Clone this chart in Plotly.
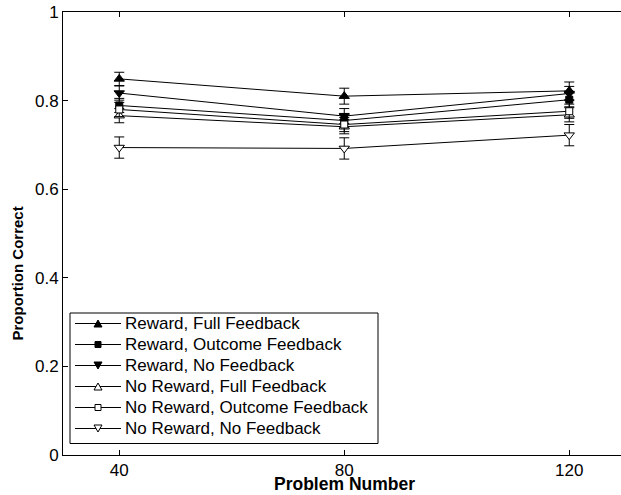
import plotly.graph_objects as go

# Problem numbers at which accuracy was measured
problems = [40, 80, 120]

# Proportion correct per condition
reward_full = [0.849, 0.810, 0.822]
reward_outcome = [0.789, 0.755, 0.802]
reward_none = [0.817, 0.765, 0.816]
noreward_full = [0.766, 0.741, 0.768]
noreward_outcome = [0.780, 0.746, 0.776]
noreward_none = [0.694, 0.692, 0.722]

# Standard errors per condition
err_reward_full = [0.015, 0.018, 0.020]
err_reward_outcome = [0.016, 0.016, 0.016]
err_reward_none = [0.016, 0.017, 0.016]
err_noreward_full = [0.016, 0.016, 0.016]
err_noreward_outcome = [0.016, 0.016, 0.016]
err_noreward_none = [0.024, 0.024, 0.024]

series = [
    ("Reward, Full Feedback", reward_full, err_reward_full, "triangle-up", "black"),
    ("Reward, Outcome Feedback", reward_outcome, err_reward_outcome, "square", "black"),
    ("Reward, No Feedback", reward_none, err_reward_none, "triangle-down", "black"),
    ("No Reward, Full Feedback", noreward_full, err_noreward_full, "triangle-up", "white"),
    ("No Reward, Outcome Feedback", noreward_outcome, err_noreward_outcome, "square", "white"),
    ("No Reward, No Feedback", noreward_none, err_noreward_none, "triangle-down", "white"),
]

W, H = 621, 495
ML, MR, MT, MB = 63, 0, 12, 40
PW, PH = W - ML - MR, H - MT - MB
FONT = "Liberation Sans, Arial, Helvetica, sans-serif"


def px(x):
    """Horizontal pixel -> paper fraction of the plot area."""
    return (x - ML) / PW


def py(y):
    """Vertical pixel (from top) -> paper fraction of the plot area."""
    return (H - MB - y) / PH


fig = go.Figure()
for name, vals, errs, symbol, fill in series:
    fig.add_trace(go.Scatter(
        x=problems, y=vals, name=name, mode="lines+markers",
        line=dict(color="black", width=1),
        marker=dict(symbol=symbol, size=9 if symbol != "square" else 7,
                    color=fill, line=dict(color="black", width=1)),
        error_y=dict(type="data", array=errs, visible=True,
                     color="black", thickness=1, width=5),
        showlegend=False,
    ))

# Boxed legend in the lower-left corner of the axes
shapes, annotations = [], []
box_l, box_t, box_r, box_b = 70, 313, 378, 443.5
shapes.append(dict(type="rect", xref="paper", yref="paper",
                   x0=px(box_l), x1=px(box_r), y0=py(box_b), y1=py(box_t),
                   line=dict(color="black", width=1), fillcolor="white", layer="above"))

row0, row_gap = 323.5, 21.0
icon_l, icon_r, icon_c = 75, 121, 98
for i, (name, _, _, symbol, fill) in enumerate(series):
    ry = row0 + i * row_gap
    shapes.append(dict(type="line", xref="paper", yref="paper",
                       x0=px(icon_l), x1=px(icon_r), y0=py(ry), y1=py(ry),
                       line=dict(color="black", width=1), layer="above"))
    if symbol == "square":
        s = 3
        path = (f"M {px(icon_c - s)},{py(ry - s)} L {px(icon_c + s)},{py(ry - s)} "
                f"L {px(icon_c + s)},{py(ry + s)} L {px(icon_c - s)},{py(ry + s)} Z")
    else:
        hw, hh = 4, 3.5
        d = -1 if symbol == "triangle-up" else 1
        path = (f"M {px(icon_c)},{py(ry + d * hh)} L {px(icon_c + hw)},{py(ry - d * hh)} "
                f"L {px(icon_c - hw)},{py(ry - d * hh)} Z")
    shapes.append(dict(type="path", xref="paper", yref="paper", path=path,
                       fillcolor=fill, line=dict(color="black", width=1), layer="above"))
    annotations.append(dict(text=name, xref="paper", yref="paper",
                            x=px(icon_r + 2), y=py(ry), xanchor="left", yanchor="middle",
                            showarrow=False, font=dict(family=FONT, size=17, color="black")))

# Axis titles
annotations.append(dict(text="<b>Problem Number</b>", xref="paper", yref="paper",
                        x=px(344), y=py(495), xanchor="center", yanchor="bottom",
                        showarrow=False, borderpad=0,
                        font=dict(family=FONT, size=17.5, color="black")))
annotations.append(dict(text="<b>Proportion Correct</b>", xref="paper", yref="paper",
                        x=px(17), y=py(273.5), xanchor="center", yanchor="middle",
                        textangle=-90, showarrow=False,
                        font=dict(family=FONT, size=15, color="black")))

fig.update_layout(
    width=W, height=H,
    margin=dict(l=ML, r=MR, t=MT, b=MB, autoexpand=False),
    paper_bgcolor="white", plot_bgcolor="white",
    font=dict(family=FONT, size=17, color="black"),
    showlegend=False,
    shapes=shapes, annotations=annotations,
    xaxis=dict(
        range=[30, 129.2], tickvals=[40, 80, 120], ticktext=["40", "80", "120"],
        showline=True, linecolor="black", linewidth=1, mirror="ticks",
        ticks="inside", ticklen=5, tickcolor="black", showgrid=False, zeroline=False,
        tickfont=dict(size=17), automargin=False,
    ),
    yaxis=dict(
        range=[0, 1], tickvals=[0, 0.2, 0.4, 0.6, 0.8, 1],
        ticktext=["0", "0.2", "0.4", "0.6", "0.8", "1"],
        showline=True, linecolor="black", linewidth=1,
        ticks="inside", ticklen=5, tickcolor="black", showgrid=False, zeroline=False,
        tickfont=dict(size=17), automargin=False,
    ),
)

fig.write_html("out.html")
